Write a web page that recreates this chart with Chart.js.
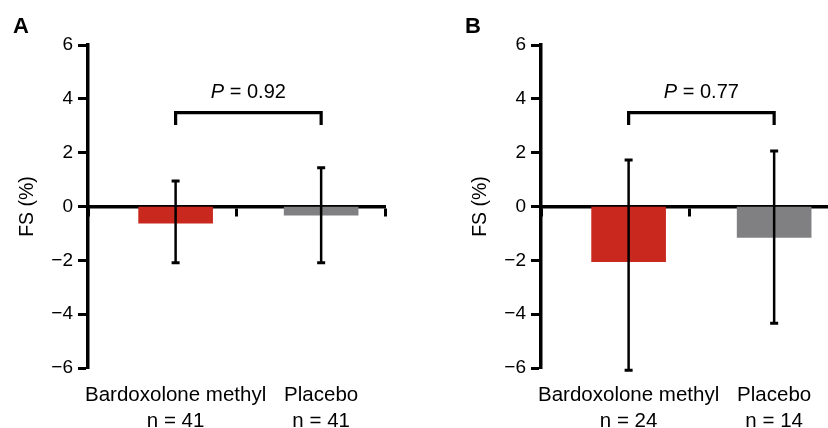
<!DOCTYPE html>
<html>
<head>
<meta charset="utf-8">
<script src="https://cdn.jsdelivr.net/npm/chart.js@4"></script>
<style>
  body { margin: 0; background: #fff; }
  #wrap { position: relative; width: 828px; height: 428px; overflow: hidden; background: #fff; }
  canvas { position: absolute; top: 0; }
</style>
</head>
<body>
<div id="wrap">
  <canvas id="chartA" width="414" height="428" style="left:0"></canvas>
  <canvas id="chartB" width="440" height="428" style="left:414px"></canvas>
</div>
<script>
// data
const groups = ['Bardoxolone methyl', 'Placebo'];
const countsA = [41, 41];
const countsB = [24, 14];
const meanA = [-0.62, -0.32];
const upperA = [0.95, 1.44];
const lowerA = [-2.09, -2.09];
const meanB = [-2.05, -1.15];
const upperB = [1.73, 2.06];
const lowerB = [-6.08, -4.34];
const pValues = ['0.92', '0.77'];
const yTicks = [-6, -4, -2, 0, 2, 4, 6];

const barColors = ['#c9281e', '#808083'];
const FONT = '"Liberation Sans", Arial, Helvetica, sans-serif';
const barPos = [0.59, 1.57];   // where the two groups sit on the x axis (0..2)
const bracketTop = 3.49, bracketLeg = 3.03, pLabelY = 4.22;

// error bars, significance bracket, P label and panel letter
const extras = {
  id: 'extras',
  afterDatasetsDraw(chart, args, opts) {
    const { ctx, scales: { x, y } } = chart;
    ctx.save();
    ctx.strokeStyle = '#000';
    ctx.lineCap = 'butt';

    opts.upper.forEach((hi, i) => {
      const px = x.getPixelForValue(barPos[i]);
      const top = y.getPixelForValue(hi);
      const bot = y.getPixelForValue(opts.lower[i]);
      ctx.lineWidth = 2.5;
      ctx.beginPath();
      ctx.moveTo(px, top);
      ctx.lineTo(px, bot);
      ctx.stroke();
      ctx.lineWidth = 3;
      ctx.beginPath();
      ctx.moveTo(px - 4, top); ctx.lineTo(px + 4, top);
      ctx.moveTo(px - 4, bot); ctx.lineTo(px + 4, bot);
      ctx.stroke();
    });

    const x0 = x.getPixelForValue(barPos[0]);
    const x1 = x.getPixelForValue(barPos[1]);
    ctx.lineWidth = 3.2;
    ctx.lineJoin = 'miter';
    ctx.beginPath();
    ctx.moveTo(x0, y.getPixelForValue(bracketLeg));
    ctx.lineTo(x0, y.getPixelForValue(bracketTop));
    ctx.lineTo(x1, y.getPixelForValue(bracketTop));
    ctx.lineTo(x1, y.getPixelForValue(bracketLeg));
    ctx.stroke();

    // "P = 0.xx" with italic P
    const rest = ' = ' + opts.p;
    ctx.fillStyle = '#000';
    ctx.textBaseline = 'middle';
    ctx.font = `italic 20px ${FONT}`;
    const wP = ctx.measureText('P').width;
    ctx.font = `20px ${FONT}`;
    const wR = ctx.measureText(rest).width;
    const start = (x0 + x1) / 2 - (wP + wR) / 2;
    const ty = y.getPixelForValue(pLabelY);
    ctx.font = `italic 20px ${FONT}`;
    ctx.fillText('P', start, ty);
    ctx.font = `20px ${FONT}`;
    ctx.fillText(rest, start + wP, ty);
    ctx.restore();
  },
  afterDraw(chart, args, opts) {
    const { ctx } = chart;
    ctx.save();
    ctx.fillStyle = '#000';
    ctx.textBaseline = 'alphabetic';
    ctx.font = `bold 22px ${FONT}`;
    ctx.fillText(opts.letter, opts.letterX, 33);
    ctx.restore();
  }
};

function makePanel(id, means, upper, lower, counts, p, letter, letterX, padLeft, padRight) {
  const ctx = document.getElementById(id).getContext('2d');
  return new Chart(ctx, {
    type: 'bar',
    data: {
      datasets: [{
        data: means.map((m, i) => ({ x: barPos[i], y: m })),
        backgroundColor: barColors,
        borderWidth: 0,
        barThickness: 74
      }]
    },
    options: {
      responsive: false,
      animation: false,
      layout: { padding: { left: padLeft, right: padRight, top: 45, bottom: 0 } },
      plugins: {
        legend: { display: false },
        tooltip: { enabled: false },
        extras: { upper, lower, p, letter, letterX }
      },
      scales: {
        x: {
          type: 'linear',
          min: 0,
          max: 2,
          offset: false,
          position: { y: 0 },
          z: 1,
          border: { color: '#000', width: 3.5 },
          grid: { offset: false, drawOnChartArea: false, drawTicks: true, tickLength: 8, tickWidth: 3, color: '#000' },
          ticks: { display: false, stepSize: 1 }
        },
        x2: {
          type: 'linear',
          position: 'bottom',
          min: 0,
          max: 2,
          offset: false,
          border: { display: false },
          grid: { display: false },
          afterBuildTicks: s => { s.ticks = barPos.map(v => ({ value: v })); },
          afterFit: s => { s.height = 60; },
          ticks: {
            autoSkip: false,
            maxRotation: 0,
            padding: 6,
            color: '#000',
            font: { family: FONT, size: 20.5, lineHeight: 1.27 },
            callback: (v, i) => [groups[i], 'n = ' + counts[i]]
          }
        },
        y: {
          min: -6,
          max: 6,
          afterBuildTicks: s => { s.ticks = yTicks.map(v => ({ value: v })); },
          afterFit: s => { s.width = 88; },
          border: { color: '#000', width: 3.5 },
          grid: { drawOnChartArea: false, tickLength: 10, tickWidth: 3, color: '#000' },
          ticks: {
            padding: 5,
            color: '#000',
            font: { family: FONT, size: 19 },
            callback: v => (v < 0 ? '\u2212' + Math.abs(v) : String(v))
          },
          title: {
            display: true,
            text: 'FS (%)',
            color: '#000',
            font: { family: FONT, size: 19.5 },
            padding: { top: 16, bottom: 0 }
          }
        }
      }
    },
    plugins: [extras]
  });
}

makePanel('chartA', meanA, upperA, lowerA, countsA, pValues[0], 'A', 13, 0, 29);
makePanel('chartB', meanB, upperB, lowerB, countsB, pValues[1], 'B', 51, 39, 16);
</script>
</body>
</html>
